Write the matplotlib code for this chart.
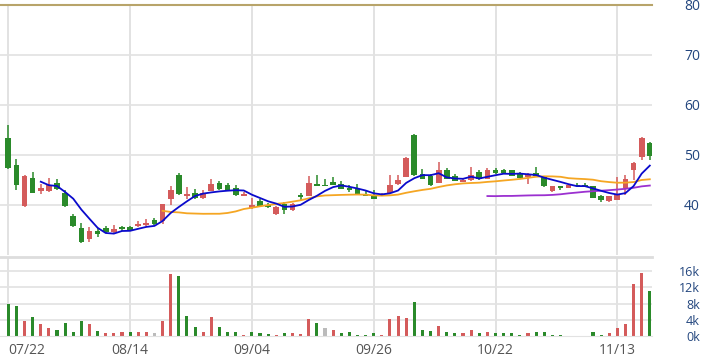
import matplotlib
matplotlib.use('Agg')
import matplotlib.pyplot as plt
import numpy as np
import pandas as pd

plt.rcParams['font.family'] = ['Open Sans', 'DejaVu Sans']

# daily prices
open_ = [53.5, 48.0, 39.8, 45.5, 42.8, 42.8, 44.4, 42.5, 37.9, 35.4,
         33.3, 34.8, 35.4, 34.6, 35.7, 35.7, 35.8, 36.0, 37.0, 36.8,
         41.2, 46.0, 41.9, 42.5, 41.5, 42.9, 44.5, 44.0, 43.5, 41.9,
         39.4, 40.7, 40.1, 38.2, 40.3, 39.0, 42.0, 41.9, 44.2, 44.0,
         44.7, 44.3, 43.5, 43.3, 42.3, 41.9, 41.9, 42.5, 44.2, 45.7,
         54.0, 46.1, 45.8, 44.5, 47.0, 45.8, 44.7, 45.0, 46.7, 45.3,
         47.0, 47.0, 47.0, 46.4, 45.7, 46.5, 45.7, 42.8, 43.8, 43.5,
         44.0, 44.0, 43.8, 41.9, 40.8, 41.1, 43.5, 47.0, 49.7, 52.5]
close = [47.5, 44.0, 45.8, 42.5, 43.5, 44.0, 43.2, 39.8, 35.8, 32.6,
         34.8, 34.2, 34.6, 35.2, 35.2, 35.0, 36.2, 36.5, 36.2, 40.1,
         43.0, 42.2, 42.2, 41.5, 42.5, 44.2, 43.2, 42.9, 42.0, 42.2,
         40.0, 39.9, 39.6, 39.7, 39.0, 40.3, 41.6, 44.4, 43.9, 43.9,
         44.1, 43.3, 43.0, 42.2, 41.9, 41.3, 42.2, 44.1, 45.0, 49.5,
         46.0, 45.3, 44.0, 47.0, 45.3, 44.9, 45.0, 46.1, 45.2, 47.0,
         46.5, 46.5, 45.9, 45.5, 46.3, 45.8, 43.8, 43.8, 43.4, 44.0,
         43.9, 43.8, 41.5, 41.0, 41.8, 42.3, 45.3, 48.5, 53.5, 49.8]
high = [56.0, 49.2, 46.0, 46.7, 44.3, 45.5, 45.2, 43.0, 38.2, 36.4,
        35.6, 35.4, 35.9, 36.1, 35.8, 35.8, 36.8, 37.2, 37.5, 40.2,
        43.9, 46.5, 43.7, 43.2, 43.0, 45.2, 44.9, 44.4, 44.0, 42.6,
        41.5, 41.2, 40.4, 39.8, 40.7, 40.5, 42.4, 45.8, 46.0, 45.2,
        45.7, 44.9, 44.0, 44.2, 43.0, 43.0, 42.4, 46.0, 46.0, 49.6,
        54.3, 47.2, 46.3, 48.7, 47.5, 46.3, 45.2, 47.7, 47.0, 47.5,
        47.5, 47.3, 47.1, 46.6, 46.4, 47.7, 45.8, 43.9, 43.9, 44.2,
        44.5, 44.5, 43.9, 42.0, 41.9, 45.7, 46.0, 48.6, 53.6, 52.6]
low = [47.3, 43.0, 39.7, 42.4, 42.2, 42.7, 43.0, 39.7, 35.7, 32.5,
       32.6, 33.6, 34.5, 34.5, 34.9, 34.9, 35.6, 35.9, 36.1, 36.3,
       40.0, 42.1, 41.3, 41.3, 41.3, 42.8, 43.1, 42.8, 41.9, 41.8,
       39.3, 39.8, 39.5, 38.1, 38.2, 38.9, 41.0, 41.8, 43.8, 43.8,
       44.0, 43.2, 42.6, 42.1, 41.8, 41.2, 41.8, 42.4, 44.1, 45.6,
       45.9, 45.2, 43.9, 44.4, 45.2, 44.8, 44.6, 44.9, 45.1, 45.2,
       46.2, 46.3, 45.8, 45.4, 44.3, 45.7, 43.7, 42.7, 43.0, 43.4,
       43.8, 43.7, 41.4, 40.6, 40.7, 41.0, 42.0, 45.0, 49.0, 49.0]

# volume in thousands, direction vs previous close: r up, g down, n flat
volume = [7.8, 7.5, 3.8, 4.7, 2.9, 2.0, 1.6, 3.1, 1.1, 3.8,
          2.9, 1.3, 0.8, 0.8, 0.9, 0.9, 1.0, 1.1, 0.8, 3.8,
          15.2, 14.8, 5.0, 2.3, 1.1, 4.7, 2.3, 1.0, 1.1, 0.2,
          1.1, 0.8, 0.4, 0.3, 0.7, 0.7, 0.4, 4.1, 3.1, 1.9,
          1.6, 0.7, 0.9, 0.3, 0.3, 0.7, 0.3, 4.1, 5.0, 4.5,
          8.4, 1.6, 1.3, 2.5, 1.1, 0.7, 0.7, 1.6, 0.7, 0.9,
          0.7, 0.7, 0.7, 0.3, 0.7, 1.1, 0.9, 0.2, 0.2, 0.0,
          0.0, 0.0, 0.9, 0.2, 0.7, 2.0, 2.9, 12.7, 15.4, 11.1]
vol_dir = list("ggrgrrgggg" "rgrrrgrrnr" "rgggrrgggr" "gggrgrrrgn" "rgggggrrrr"
               "gggrggrrgr" "ggggrggggr" "ggggrrrrrg")

date_labels = ['07/22', '08/14', '09/04', '09/26', '10/22', '11/13']

RED = '#d45b5b'
GREEN = '#2a8a2a'
GRID = '#e2e2e2'
LABEL = '#23467e'

n = len(close)
x = np.arange(n)
o = np.array(open_)
c = np.array(close)
up = c > o
cols = np.where(up, RED, GREEN)

fig = plt.figure(figsize=(7.06, 3.6), dpi=100)
ax = fig.add_axes([0, 1 - 255 / 360, 652 / 706, 250 / 360])
axv = fig.add_axes([0, 1 - 336 / 360, 652 / 706, 79 / 360], sharex=ax)

ticks = np.arange(0, n, 15)

# price panel
for t in ticks:
    ax.axvline(t, color=GRID, lw=1.4, zorder=0)
for lv in [40, 50, 60, 70]:
    ax.axhline(lv, color=GRID, lw=1.2, zorder=0)
ax.axhline(80, color='#b8a46a', lw=1.5, zorder=1, clip_on=False)

ax.vlines(x, low, high, colors=cols, lw=1.1, zorder=2)
body = np.maximum(np.abs(c - o), 0.15)
ax.bar(x, body, bottom=np.minimum(o, c), width=0.7, color=cols, zorder=3)

s = pd.Series(close)
ax.plot(x, s.rolling(60).mean(), color='#9b30d0', lw=1.3, zorder=4)
ax.plot(x, s.rolling(20).mean(), color='#f5a623', lw=1.3, zorder=4)
ax.plot(x, s.rolling(5).mean(), color='#0a0acc', lw=1.3, zorder=5)

ax.set_xlim(-1.02, 79.27)
ax.set_ylim(30, 80)
ax.yaxis.tick_right()
ax.set_yticks([40, 50, 60, 70, 80])
ax.tick_params(axis='y', length=0, pad=34.5, labelsize=10, labelcolor=LABEL)
for lab in ax.get_yticklabels():
    lab.set_horizontalalignment('right')
ax.tick_params(axis='x', length=0, labelbottom=False)
for sp in ax.spines.values():
    sp.set_visible(False)

# volume panel
vcol = {'r': RED, 'g': GREEN, 'n': '#bbbbbb'}
for t in ticks:
    axv.axvline(t, color=GRID, lw=1.4, zorder=0)
for lv in [4000, 8000, 12000, 16000]:
    axv.axhline(lv, color=GRID, lw=1.2, zorder=0)
axv.bar(x, np.array(volume) * 1000, width=0.38,
        color=[vcol[d] for d in vol_dir], zorder=2)
axv.set_ylim(0, 19450)
axv.yaxis.tick_right()
axv.set_yticks([0, 4000, 8000, 12000, 16000])
axv.set_yticklabels(['0k', '4k', '8k', '12k', '16k'])
axv.tick_params(axis='y', length=0, pad=34.5, labelsize=9, labelcolor=LABEL)
for lab in axv.get_yticklabels():
    lab.set_horizontalalignment('right')
axv.set_xticks(ticks)
axv.set_xticklabels(date_labels)
axv.tick_params(axis='x', length=0, pad=5, labelsize=10, labelcolor='#555555')
axv.get_xticklabels()[0].set_horizontalalignment('left')
for sp in axv.spines.values():
    sp.set_visible(False)
axv.spines['top'].set_visible(True)
axv.spines['top'].set_color('#dddddd')
axv.spines['top'].set_linewidth(2)
axv.spines['bottom'].set_visible(True)
axv.spines['bottom'].set_color('#e2e2e2')

plt.savefig('out.png', dpi=100)
